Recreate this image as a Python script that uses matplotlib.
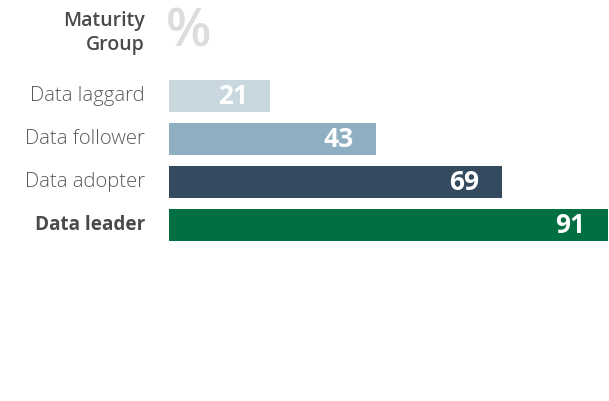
import matplotlib
matplotlib.use("Agg")
import matplotlib.pyplot as plt

# chart data
groups = ["Data laggard", "Data follower", "Data adopter", "Data leader"]
values = [21, 43, 69, 91]
colors = ["#c9d8df", "#8eafc2", "#344b5f", "#007042"]

plt.rcParams["font.family"] = ["Open Sans", "DejaVu Sans"]

fig = plt.figure(figsize=(6.09, 4.01), dpi=100)
ax = fig.add_axes([169 / 609, 0, 440 / 609, 1])

ypos = list(range(len(groups)))
ax.barh(ypos, values, height=0.745, color=colors)

ax.set_xlim(0, 91.3)
ax.set_ylim(7.093, -2.233)
ax.axis("off")

for i, (g, v) in enumerate(zip(groups, values)):
    bold = g == "Data leader"
    ax.annotate(g, (0, i), xytext=(-24, 0), textcoords="offset pixels",
                ha="right", va="center",
                fontsize=13.6 if bold else 14.6, color="#4a4a4a" if bold else "#5a5a5a",
                fontweight="bold" if bold else "light")
    ax.annotate(str(v), (v, i), xytext=(-22, 0), textcoords="offset pixels",
                ha="right", va="center", fontsize=19, fontweight="bold", color="white")

# header
fig.text(145 / 609, 1 - 21 / 401, "Maturity", ha="right", va="center",
         fontsize=14, fontweight="semibold", color="#4a4a4a")
fig.text(145 / 609, 1 - 45 / 401, "Group", ha="right", va="center",
         fontsize=14, fontweight="semibold", color="#4a4a4a")
fig.text(166 / 609, 1 - 33 / 401, "%", ha="left", va="center",
         fontsize=38, fontweight="semibold", color="#dcdcdc")

fig.savefig("out.png", dpi=100)
